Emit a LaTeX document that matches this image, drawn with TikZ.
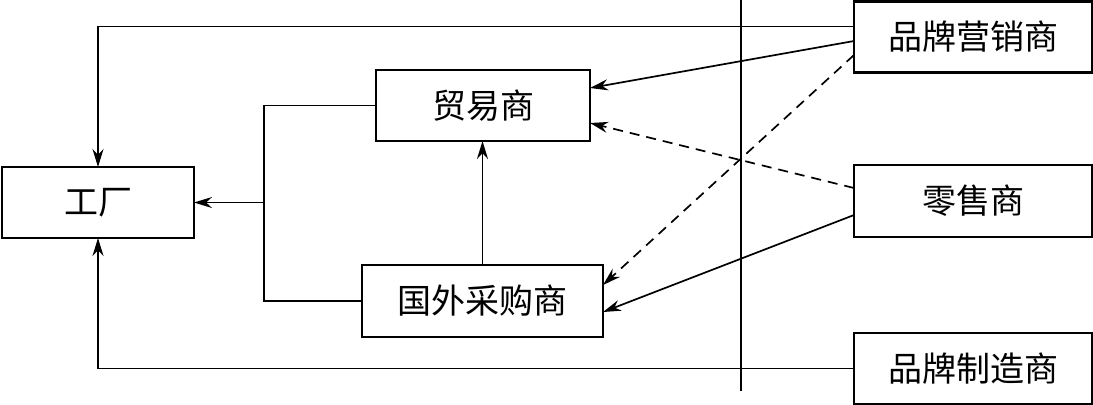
\documentclass[tikz,border=0pt]{standalone}
\usepackage{fontspec}
\setmainfont{Noto Sans CJK SC}
\usetikzlibrary{arrows.meta,positioning,calc}

\begin{document}
\begin{tikzpicture}[x=0.5pt,y=-0.5pt,>={Stealth[length=9pt,width=5.5pt]}]
        \tikzset{
          firmbox/.style={
            draw,
            line width=1.25pt,
            minimum width=119pt,
            minimum height=35.5pt,
            inner sep=0pt,
            outer sep=0pt,
            align=center,
            font=\fontsize{17pt}{20pt}\selectfont
          },
          link/.style={line width=0.85pt},
          hintlink/.style={line width=0.85pt,dash pattern=on 5pt off 3.5pt}
        }
        \useasboundingbox (0,0) rectangle (1093,404);
        \node[firmbox,minimum width=96pt] (factory) at (98,202.5) {工厂};
        \node[firmbox,minimum width=107pt] (trader) at (483,105.5) {贸易商};
        \node[firmbox,minimum width=120.5pt,minimum height=36pt] (buyer) at (482.5,301) {国外采购商};
        \node[firmbox] (marketer) at (973,37) {品牌营销商};
        \node[firmbox,minimum height=36pt] (retailer) at (973,201) {零售商};
        \node[firmbox] (maker) at (973,368.5) {品牌制造商};
        \coordinate (fork) at (264,202.5);
        \coordinate (divtop) at (741,0);
        \coordinate (divbot) at (741,391);
        \draw[link] (divtop) -- (divbot);
        \draw[link,->] ($(marketer.north west)+(0,25)$) -| (factory.north);
        \draw[link,->] (maker.west) -| (factory.south);
        \draw[link] (trader.west) -| (fork) |- (buyer.west);
        \draw[link,->] (fork) -- (factory.east);
        \draw[link,->] (buyer.north) -- (buyer.north |- trader.south);
        \draw[link,->] ($(marketer.west)+(0,4)$) -- ($(trader.east)+(0,-17.5)$);
        \draw[hintlink,->] ($(marketer.west)+(0,18)$) -- ($(buyer.east)+(0,-16)$);
        \draw[hintlink,->] ($(retailer.west)+(0,-13)$) -- ($(trader.east)+(0,17.5)$);
        \draw[link,->] ($(retailer.west)+(0,14)$) -- ($(buyer.east)+(0,11)$);
      \end{tikzpicture}
\end{document}
